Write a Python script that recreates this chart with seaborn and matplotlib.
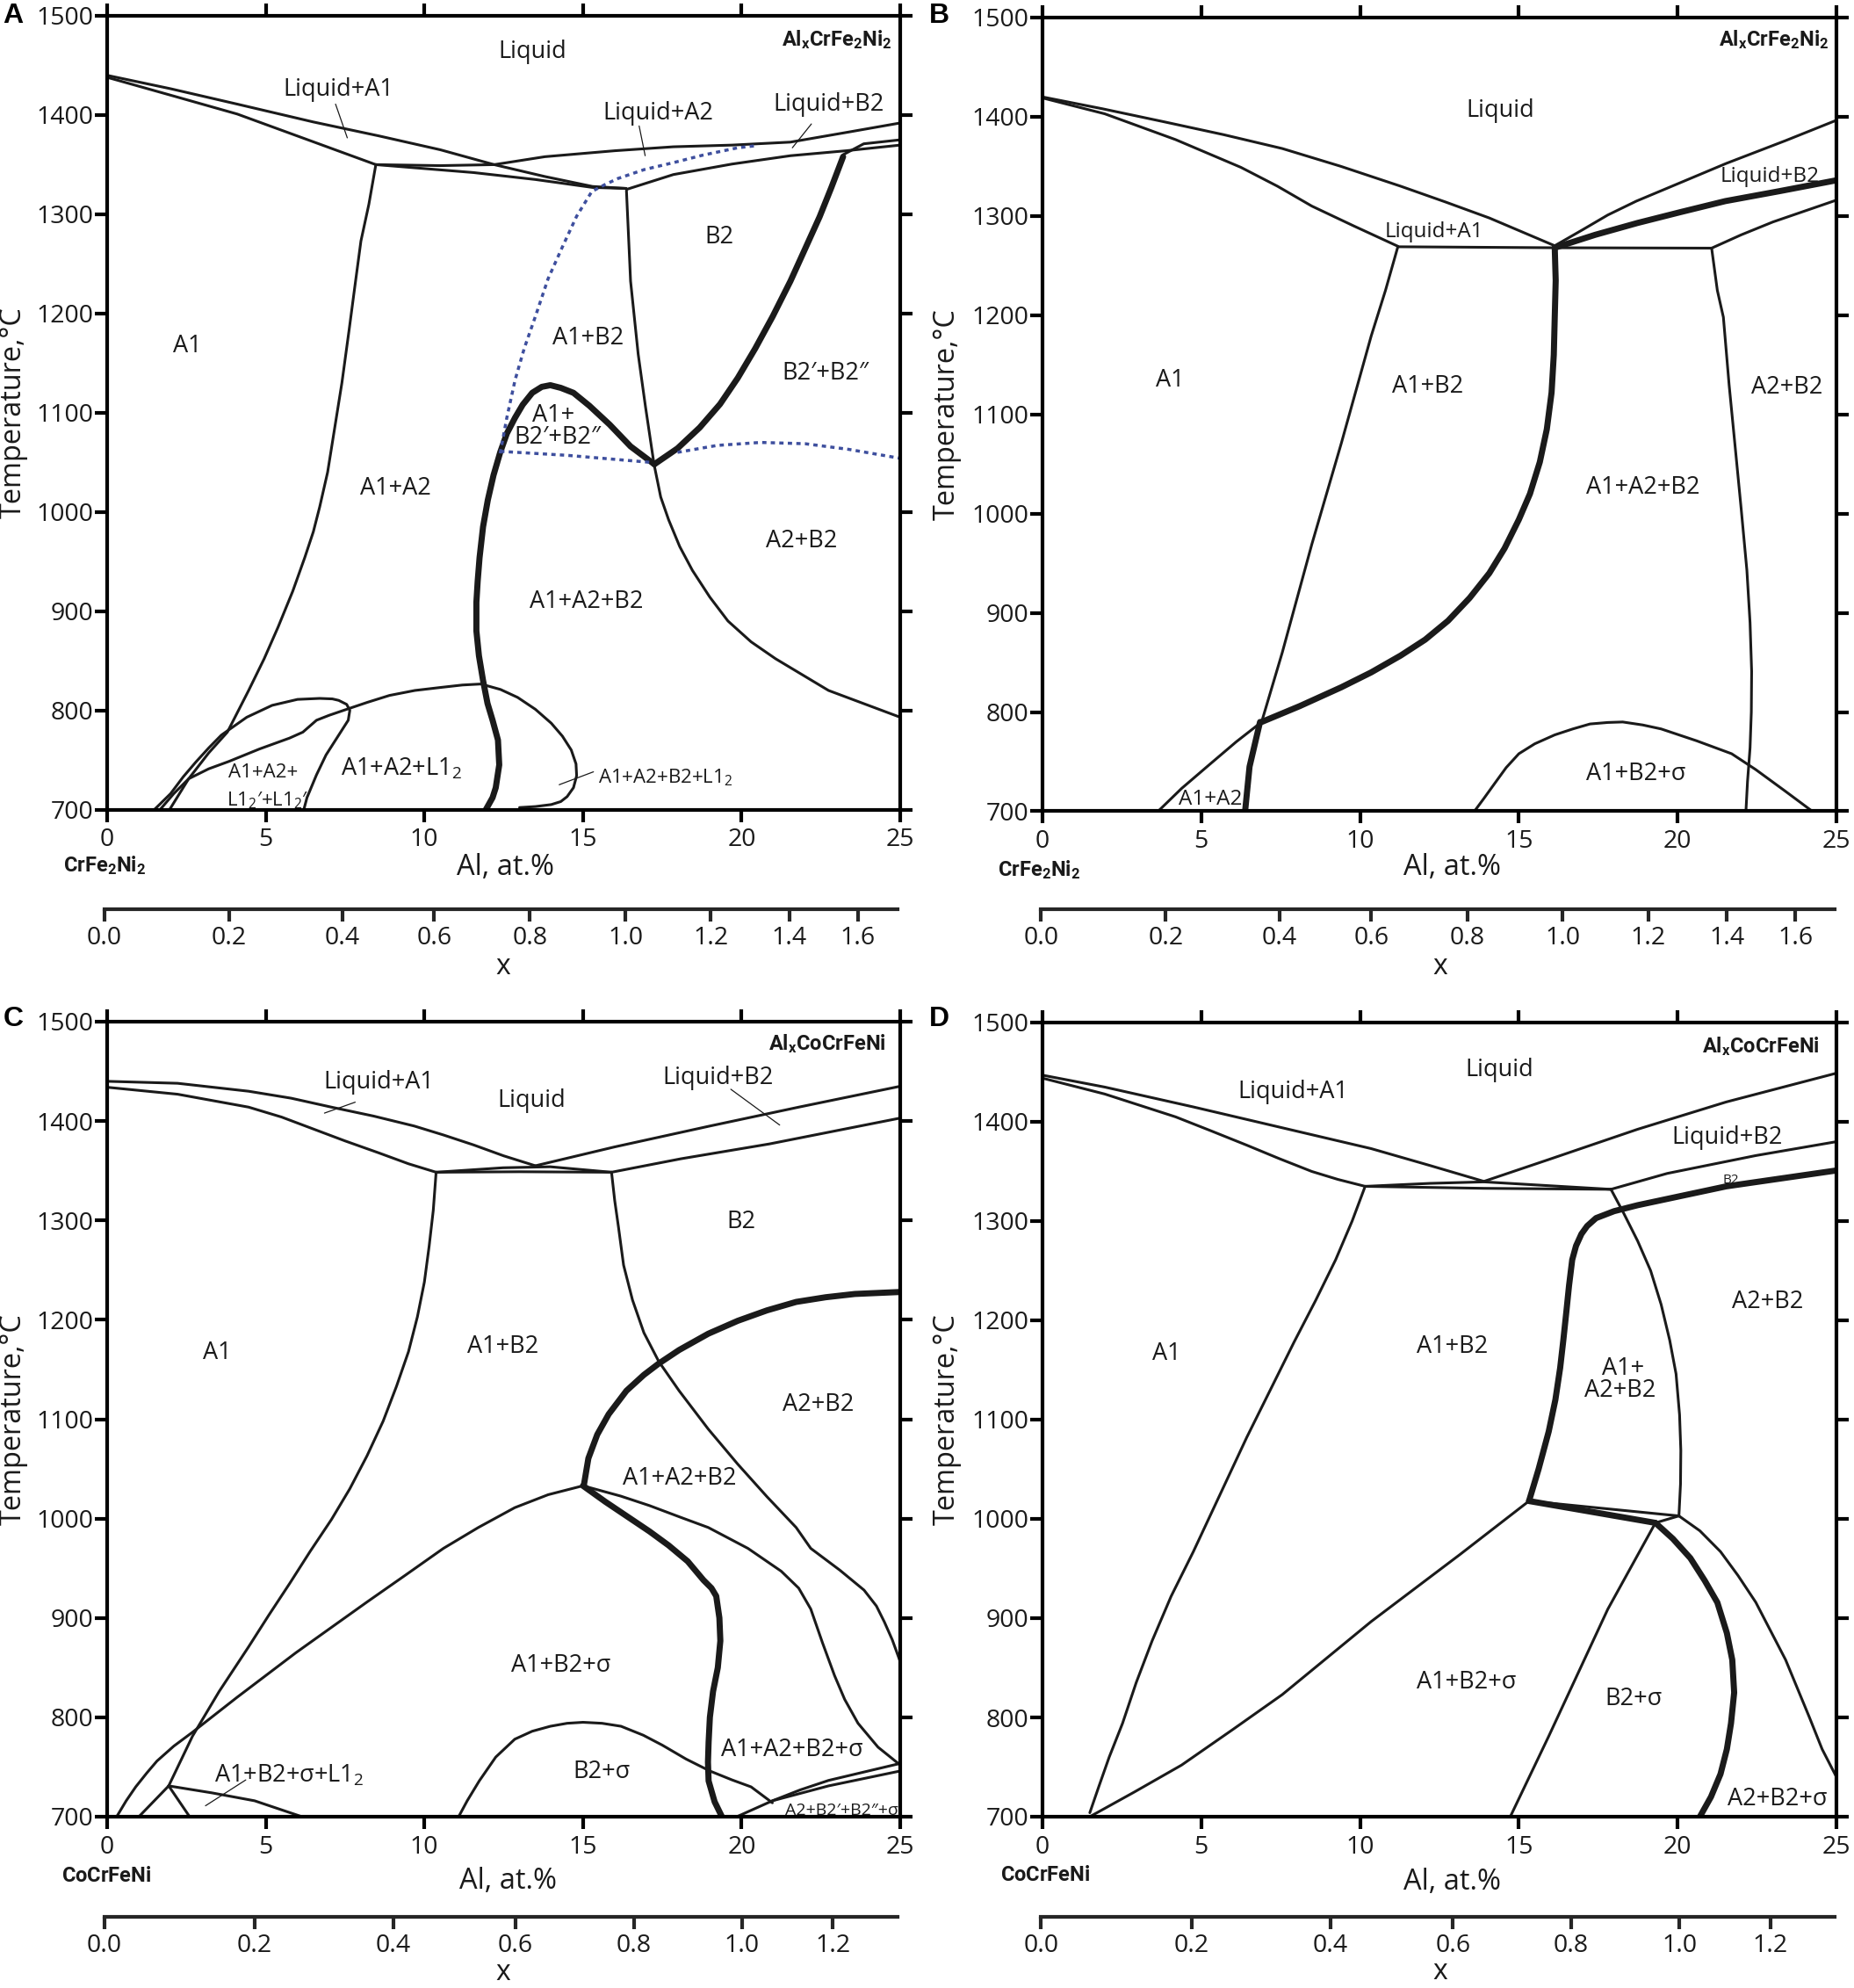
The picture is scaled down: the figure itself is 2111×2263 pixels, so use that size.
import matplotlib
matplotlib.use("Agg")
import matplotlib.pyplot as plt
import seaborn as sns
import pandas as pd

sns.set_theme(style="ticks")
FONT = "Open Sans"
BOLD = "Roboto"
plt.rcParams["font.family"] = [FONT, "DejaVu Sans"]
plt.rcParams["mathtext.fontset"] = "custom"
plt.rcParams["mathtext.rm"] = FONT
plt.rcParams["mathtext.bf"] = BOLD + ":bold"
plt.rcParams["mathtext.it"] = FONT + ":italic"
plt.rcParams["mathtext.default"] = "rm"

# ---------- Panel A ----------
a_liq_up = [(0,1440),(2,1426.5),(4.1,1411),(6.5,1393),(8.56,1379),(10.5,1365),(12.2,1350),(13.8,1338),(15.3,1328),(16.36,1326)]
a_liq_lo = [(0,1438),(2,1420),(4.1,1401),(6.5,1373),(8.47,1350)]
a_tie_up = [(8.47,1350),(10.5,1349),(12.2,1350),(13.8,1358),(16,1364),(17.85,1368),(19.7,1369.7),(21.54,1372.7),(23.4,1383),(25,1392)]
a_tie_lo = [(8.47,1350),(11.55,1342),(13.5,1335),(15.3,1327),(16.36,1326)]
a_b2_lo = [(16.37,1325),(17.85,1340),(19.7,1350.6),(21.54,1359),(23.3,1364),(25,1369.7)]
a_b2_up = [(23.2,1360),(23.85,1371),(25,1375)]
a_a1 = [(8.47,1350),(8.25,1310),(8,1273),(7.82,1230),(7.63,1184),(7.4,1130),(7.16,1082),(6.95,1040),(6.7,1005),(6.5,980),(6.23,954),(5.85,920),(5.39,884),(4.95,852),(4.46,820),(3.79,778),(3.2,757),(2.57,731),(1.97,700)]
a_lobe = [(1.49,700),(2.0,716),(2.4,733),(2.8,748),(3.2,762),(3.6,775),(4.4,793),(5.2,805),(6.0,811),(6.7,812),(7.1,811.5),(7.3,810),(7.55,806),(7.65,800),(7.6,790),(7.4,780),(7.2,770),(6.9,755),(6.6,735),(6.3,712),(6.2,700)]
a_low = [(1.67,700),(2.1,716),(2.57,731),(3.2,741),(3.84,748.5),(4.8,761),(5.75,772),(6.17,778),(6.6,790),(7.0,795),(7.55,801),(8.2,808),(8.9,815),(9.7,820),(10.5,823),(11.2,825.5),(11.78,826.5),(12.4,821),(12.94,813),(13.5,801),(14,787),(14.35,774),(14.63,760),(14.78,746),(14.8,734),(14.7,722),(14.5,713),(14.3,708),(14,705),(13.5,703),(13,702)]
a_thin_r = [(16.37,1324),(16.5,1232.6),(16.74,1159),(16.97,1106),(17.24,1048),(17.45,1015),(17.7,992),(18.05,965),(18.45,941),(19,914),(19.57,890),(20.3,869),(21.07,852),(22.74,820),(25,793)]
a_thick_l = [(11.94,700),(12.15,712),(12.25,722),(12.36,745),(12.32,770),(12.15,790),(11.99,807),(11.85,830),(11.72,855),(11.64,880),(11.64,909),(11.68,930),(11.74,954),(11.85,985),(12.0,1012),(12.18,1037),(12.39,1060),(12.6,1079),(12.86,1095),(13.1,1108),(13.4,1120),(13.7,1126),(13.97,1127.7),(14.3,1125),(14.7,1120),(15.2,1107),(15.84,1088),(16.5,1066),(17.25,1048)]
a_thick_r = [(17.25,1048),(17.98,1064),(18.68,1085),(19.32,1108.6),(19.88,1135),(20.43,1164.7),(20.98,1197),(21.54,1232.6),(22.0,1265),(22.46,1297.5),(22.83,1327),(23.2,1358)]
a_dot_1 = [(12.39,1059),(12.6,1095),(12.86,1133),(13.15,1165),(13.5,1197),(13.9,1235),(14.35,1267),(14.8,1298),(15.28,1323),(15.7,1330),(16.1,1336),(16.93,1345),(17.85,1352),(18.77,1359.5),(19.88,1367),(20.43,1369)]
a_dot_2 = [(12.39,1061),(14.5,1057),(17.1,1050)]
a_dot_3 = [(17.98,1060),(19.23,1067),(20.6,1070),(22,1068.7),(23.38,1063),(25,1054)]
A_THIN = [a_liq_up,a_liq_lo,a_tie_up,a_tie_lo,a_b2_lo,a_b2_up,a_a1,a_lobe,a_low,a_thin_r]
A_THICK = [a_thick_l,a_thick_r]
A_DOT = [a_dot_1,a_dot_2,a_dot_3]
A_LEAD = [[(7.2,1411),(7.57,1377)],[(16.77,1389),(16.96,1359)],[(22.2,1391),(21.6,1367)],[(15.33,738),(14.25,725)]]
A_LABELS = [("Liquid",13.4,1466),("Liquid+A1",7.3,1428),("Liquid+A2",17.37,1404),("Liquid+B2",22.74,1413),("B2",19.3,1280),("A1",2.52,1170),("A1+B2",15.17,1178),("B2\u2032+B2\u2033",22.65,1142),("A1+",14.07,1100),("B2\u2032+B2\u2033",14.2,1078),("A1+A2",9.1,1026),("A2+B2",21.88,973),("A1+A2+B2",15.1,912),("A1+A2+L1$_2$",9.27,744)]
A_SMALL = [("A1+A2+",4.93,740),("L1$_2$\u2032+L1$_2$\u2033",5.1,712),("A1+A2+B2+L1$_2$",17.6,735)]

# ---------- Panel B ----------
b_liq_up = [(0,1420),(1.9,1408),(3.82,1395),(5.7,1382),(7.55,1368),(9.4,1350),(11.28,1330),(12.7,1314),(14.07,1298),(15.1,1284),(16.13,1270)]
b_liq_lo = [(0,1419),(1.96,1403),(4.19,1377),(6.25,1349),(7.4,1330),(8.48,1310),(9.8,1290),(11.19,1269.5)]
b_tie = [(11.19,1269),(16.1,1268),(21.07,1267.6)]
b_r_up = [(16.13,1270),(17,1286),(17.8,1301),(18.7,1315),(19.67,1328),(21.53,1353),(23.4,1376),(25,1396.5)]
b_r_lo = [(21.07,1267.6),(22,1281),(23,1294),(25,1316)]
b_a1 = [(11.19,1269),(10.8,1225),(10.35,1179),(9.41,1071),(8.48,969),(7.55,860),(6.9,790)]
b_a1a2 = [(6.9,790),(6.1,770),(5.31,748.5),(4.38,723),(3.64,700)]
b_right = [(21.07,1267.6),(21.25,1225),(21.44,1198),(21.62,1130),(21.8,1071),(22.0,1005),(22.18,943),(22.28,890),(22.33,841),(22.32,800),(22.28,764),(22.2,730),(22.15,700)]
b_dome = [(13.6,700),(13.9,713),(14.26,729),(14.6,744),(15,758),(15.5,768),(16.13,777),(16.7,783),(17.24,788),(17.8,789.5),(18.27,790),(18.9,787),(19.48,783),(20.6,771),(21.7,758),(22.46,742),(23.4,720),(24.24,700)]
b_thick_1 = [(16.13,1268),(17.4,1281),(18.74,1293),(20.1,1304),(21.5,1315),(23.2,1325),(25,1336)]
b_thick_2 = [(6.85,790),(6.52,745),(6.38,700)]
b_thick_3 = [(16.13,1268),(16.16,1235),(16.13,1198),(16.1,1160),(16.03,1122),(15.88,1085),(15.66,1052),(15.35,1020),(15,994),(14.55,965),(14.07,940),(13.45,915),(12.77,892),(12.05,873),(11.28,857),(10.35,840),(9.41,825),(8.1,806),(6.9,790)]
B_THIN = [b_liq_up,b_liq_lo,b_tie,b_r_up,b_r_lo,b_a1,b_a1a2,b_right,b_dome]
B_THICK = [b_thick_1,b_thick_2,b_thick_3]
B_DOT = []
B_LEAD = []
B_LABELS = [("Liquid",14.41,1409),("A1",4.03,1137),("A1+B2",12.12,1131),("A2+B2",23.43,1130),("A1+A2+B2",18.9,1029),("A1+B2+\u03c3",18.68,740)]
B_SMALL = [("Liquid+A1",12.34,1287),("Liquid+B2",22.9,1342),("A1+A2",5.28,715)]

# ---------- Panel C ----------
c_liq_up = [(0,1440),(2.22,1438),(4.46,1430),(5.8,1423),(7.07,1414),(8.4,1405),(9.68,1395),(10.6,1386),(11.55,1376),(12.5,1365),(13.5,1355)]
c_liq_lo = [(0,1434),(2.22,1427),(4.46,1414),(5.5,1404),(6.5,1392),(7.5,1380),(8.56,1368),(9.5,1357),(10.37,1348.5)]
c_tie_up = [(10.37,1348.5),(12.48,1353),(13.97,1354),(15.9,1348.5)]
c_tie_lo = [(10.37,1348.5),(13,1349),(15.9,1348.5)]
c_r_up = [(13.5,1355),(16,1374),(19,1395),(21.8,1414),(25,1435)]
c_r_lo = [(15.9,1348.5),(18.08,1362),(20.88,1377),(25,1403)]
c_a1 = [(10.37,1348.5),(10.28,1310),(10.15,1274),(10.0,1238),(9.78,1203),(9.5,1168),(9.12,1133),(8.7,1098),(8.19,1063),(7.65,1030),(7.07,999),(6.4,967),(5.76,935),(5.1,903),(4.46,871),(3.53,826),(2.69,781),(1.94,731)]
c_s1 = [(1.94,731),(1.0,700)]
c_s2 = [(1.94,731),(2.6,700)]
c_s3 = [(1.94,731),(3.3,724),(4.65,716),(6.14,700)]
c_dome = [(0.3,700),(0.6,716),(0.9,730),(1.25,744),(1.57,756),(2.1,771),(2.69,785),(4.09,820),(5.95,865),(8.19,916),(9.4,943),(10.6,970),(11.7,991),(12.85,1011),(13.9,1024),(15,1033)]
c_right = [(15.9,1348.5),(16.0,1320),(16.12,1293),(16.28,1255),(16.56,1220),(16.92,1187),(17.39,1158),(18.03,1128.6),(18.95,1090),(19.88,1054.7),(20.8,1022),(21.72,991),(22.18,970),(23.1,948),(23.86,928),(24.25,912),(24.5,896),(24.75,878),(25,856)]
c_a2 = [(15,1033),(16.19,1022.6),(17.1,1013),(18.1,1001),(18.95,991),(20.2,970),(21.25,947),(21.8,930),(22.18,909),(22.55,875),(22.93,842),(23.25,818),(23.67,794),(24.3,770),(25,752)]
c_sig = [(11.08,700),(11.35,716),(11.73,736),(12.25,760),(12.85,778),(13.4,786),(13.97,791),(14.5,794),(15,795),(15.6,794),(16.2,791),(16.9,782),(17.5,772),(18.25,758),(19,746),(19.7,737),(20.3,730),(20.97,714)]
c_lr_1 = [(19.85,700),(20.97,716),(21.85,727),(22.74,736.5),(25,753.6)]
c_lr_2 = [(20.97,716),(22.74,731),(25,746)]
c_thick_1 = [(15.03,1034),(15.17,1060.6),(15.45,1084.5),(15.81,1105),(16.37,1128.6),(16.92,1144.6),(17.39,1156),(18.03,1169.6),(18.95,1186),(19.88,1199),(20.8,1209.5),(21.72,1218),(22.65,1222.7),(23.57,1226),(25,1228)]
c_thick_2 = [(15,1033),(15.7,1017),(16.4,1002),(17.1,987),(17.7,973),(18.3,957),(18.8,938),(19.05,930),(19.2,922),(19.3,900),(19.33,877),(19.25,850),(19.1,826),(19.0,800),(18.96,775),(18.94,755),(18.96,736),(19.15,715),(19.38,700)]
C_THIN = [c_liq_up,c_liq_lo,c_tie_up,c_tie_lo,c_r_up,c_r_lo,c_a1,c_s1,c_s2,c_s3,c_dome,c_right,c_a2,c_sig,c_lr_1,c_lr_2]
C_THICK = [c_thick_1,c_thick_2]
C_DOT = []
C_LEAD = [[(7.82,1419),(6.85,1408)],[(19.66,1432),(21.2,1396)],[(4.37,737),(3.1,711)]]
C_LABELS = [("Liquid+A1",8.56,1442),("Liquid",13.38,1423),("Liquid+B2",19.25,1446),("B2",20,1301),("A1",3.47,1169),("A1+B2",12.48,1176),("A2+B2",22.43,1117),("A1+A2+B2",18.04,1043),("A1+B2+\u03c3",14.3,855),("B2+\u03c3",15.6,748),("A1+A2+B2+\u03c3",21.6,770),("A1+B2+\u03c3+L1$_2$",5.73,744)]
C_SMALL = []
C_TINY = [("A2+B2\u2032+B2\u2033+\u03c3",23.17,709)]

# ---------- Panel D ----------
d_liq_up = [(0,1447),(1.96,1435),(4.75,1415),(7.55,1394),(10.35,1373),(12.2,1356),(13.9,1340)]
d_liq_lo = [(0,1444),(1.96,1428),(4.19,1405),(5.3,1391),(6.43,1376.5),(7.45,1363),(8.48,1350),(9.3,1342),(10.16,1335)]
d_tie_up = [(10.16,1335),(12.2,1338),(13.9,1339.5),(17.9,1332)]
d_tie_lo = [(10.16,1335),(13.9,1333),(17.9,1332)]
d_r_up = [(13.9,1340),(15.94,1362),(18.74,1392.5),(21.53,1420),(25,1449)]
d_r_lo = [(17.9,1332),(19.67,1348),(22.46,1366),(25,1380)]
d_mid = [(17.9,1332),(18.3,1308),(18.74,1280),(19.15,1250),(19.48,1216),(19.75,1180),(19.95,1146),(20.06,1105),(20.1,1069),(20.09,1035),(20.04,1003)]
d_tie_2 = [(15.32,1018),(20.04,1003)]
d_tie_3 = [(19.3,996),(20.04,1003)]
d_right = [(20.04,1003),(20.7,988),(21.35,967),(21.9,943),(22.46,916),(23.4,858),(24.15,800),(24.55,768),(25,740)]
d_a1 = [(10.16,1335),(9.75,1300),(9.23,1261),(8.6,1220),(7.92,1178),(6.43,1082),(4.75,967),(4.05,922),(3.45,877),(2.95,835),(2.52,794),(2.1,760),(1.77,730),(1.49,704)]
d_dome = [(15.32,1018),(13.14,964),(10.35,896.6),(7.55,823),(6,788),(4.38,752),(2.9,725),(1.49,700)]
d_b2s = [(19.3,996),(17.8,909),(15.94,781),(14.73,700)]
d_thick_1 = [(25,1351),(21.53,1335),(18.74,1316),(18,1310),(17.43,1303),(17.15,1295),(16.97,1287),(16.8,1275),(16.68,1261),(16.58,1235),(16.5,1210),(16.4,1180),(16.3,1152),(16.15,1120),(15.94,1088),(15.62,1050),(15.32,1018)]
d_thick_2 = [(15.32,1018),(19.3,996)]
d_thick_3 = [(19.3,996),(19.85,980),(20.4,960.5),(20.85,938),(21.25,915.8),(21.55,885),(21.72,858),(21.78,825),(21.68,794),(21.55,768),(21.35,743),(21.05,720),(20.7,700)]
D_THIN = [d_liq_up,d_liq_lo,d_tie_up,d_tie_lo,d_r_up,d_r_lo,d_mid,d_tie_2,d_tie_3,d_right,d_a1,d_dome,d_b2s]
D_THICK = [d_thick_1,d_thick_2,d_thick_3]
D_DOT = []
D_LEAD = []
D_LABELS = [("Liquid",14.4,1455),("Liquid+A1",7.9,1433),("Liquid+B2",21.57,1387),("A2+B2",22.84,1221),("A1",3.9,1169),("A1+B2",12.9,1176),("A1+",18.29,1154),("A2+B2",18.2,1132),("A1+B2+\u03c3",13.35,838),("B2+\u03c3",18.62,821),("A2+B2+\u03c3",23.15,720)]
D_SMALL = []
D_TINY = [("B2",21.68,1344)]

# ---------- Axes ticks ----------
at_ticks = [0, 5, 10, 15, 20, 25]
temp_ticks = [700, 800, 900, 1000, 1100, 1200, 1300, 1400, 1500]
x_labels_ab = ["0.0","0.2","0.4","0.6","0.8","1.0","1.2","1.4","1.6"]
x_pos_ab = [0, 3.93, 7.51, 10.4, 13.42, 16.43, 19.12, 21.6, 23.76]
x_labels_cd = ["0.0","0.2","0.4","0.6","0.8","1.0","1.2"]
x_pos_cd = [0, 4.75, 9.11, 12.97, 16.7, 20.1, 22.97]

W, H = 2111, 2263
DPI = 100
INK = "#1a1a1a"
BLUE = "#3e4f9e"
TEXT_DROP = 2.7
fig = plt.figure(figsize=(W/DPI, H/DPI), dpi=DPI, facecolor="white")

def add_px_axes(l, t, r, b):
    return fig.add_axes([l/W, 1-b/H, (r-l)/W, (b-t)/H])

def draw(ax, pts, color, lw, **kw):
    df = pd.DataFrame(pts, columns=["al", "T"])
    sns.lineplot(data=df, x="al", y="T", sort=False, estimator=None, errorbar=None,
                 color=color, linewidth=lw, ax=ax, legend=False,
                 **kw)

def panel(box, letter, letter_xy, thin, thick, dot, lead, labels, small, small_size, tiny, tiny_size,
          title, title_xy, base, base_xy, al_xy, ylab_x, xt_pos, xt_labels, sec_y, sec_dx, x_xy):
    l, t, r, b = box
    ax = add_px_axes(l, t, r, b)
    for c in thin:
        draw(ax, c, INK, 2.2, solid_joinstyle="round", solid_capstyle="round")
    for c in thick:
        draw(ax, c, INK, 5, solid_joinstyle="round", solid_capstyle="round")
    for c in dot:
        draw(ax, c, BLUE, 2.5, linestyle=(0, (1.4, 1.4)))
    for c in lead:
        draw(ax, c, INK, 0.9)
    ax.set_xlim(0, 25)
    ax.set_ylim(700, 1500)
    ax.set_xticks(at_ticks)
    ax.set_yticks(temp_ticks)
    ax.tick_params(axis="both", which="both", direction="out", length=10, width=3,
                   labelsize=20.5, color="black", labelcolor=INK, top=True, right=True)
    ax.tick_params(axis="x", pad=5)
    ax.tick_params(axis="y", pad=1.5)
    ax.set_xlabel("")
    ax.set_ylabel("Temperature,\u00b0C", fontsize=23.4, color=INK)
    ax.yaxis.set_label_coords(ylab_x, 0.5)
    for s in ax.spines.values():
        s.set_linewidth(3)
        s.set_color("black")
        s.set_visible(True)
    for txt, x, y in labels:
        ax.text(x, y - TEXT_DROP, txt, ha="center", va="center", fontsize=19.5, color=INK)
    for txt, x, y in small:
        ax.text(x, y - TEXT_DROP, txt, ha="center", va="center", fontsize=small_size, color=INK)
    for txt, x, y in tiny:
        ax.text(x, y - TEXT_DROP, txt, ha="center", va="center", fontsize=tiny_size, color=INK)
    ax.text(title_xy[0], title_xy[1], title, ha="right", va="center", fontsize=17, color=INK)
    ax.text(base_xy[0], base_xy[1], base, ha="center", va="center", fontsize=17, color=INK)
    ax.text(al_xy[0], al_xy[1] - TEXT_DROP, "Al, at.%", ha="center", va="center", fontsize=23.5, color=INK)
    ax.text(x_xy[0], x_xy[1], "x", ha="center", va="baseline", fontsize=23, color=INK)
    sec = add_px_axes(l+sec_dx, sec_y-2, r+sec_dx, sec_y+2)
    sec.patch.set_alpha(0)
    sec.set_xlim(0, 25)
    sec.set_yticks([])
    sec.set_xticks(xt_pos)
    sec.set_xticklabels(xt_labels)
    sec.tick_params(axis="x", direction="out", length=10, width=3, labelsize=20.5,
                    labelcolor=INK, pad=4)
    for k, s in sec.spines.items():
        s.set_visible(k == "bottom")
    sec.spines["bottom"].set_linewidth(3)
    fig.text(letter_xy[0]/W, 1-letter_xy[1]/H, letter, ha="center", va="center",
             fontsize=23, fontweight="bold", family="Liberation Sans", color="black")

panel((122,18,1025,921.5), "A", (15,18), A_THIN, A_THICK, A_DOT, A_LEAD, A_LABELS, A_SMALL, 16, [], 10,
      r"$\mathbf{Al_xCrFe_2Ni_2}$", (24.75,1476), r"$\mathbf{CrFe_2Ni_2}$", (-0.07,644), (12.56,644),
      -0.0997, x_pos_ab, x_labels_ab, 1033, -3.4, (12.47,534))
panel((1187,20,2091,923.5), "B", (1069,18), B_THIN, B_THICK, B_DOT, B_LEAD, B_LABELS, B_SMALL, 17.5, [], 10,
      r"$\mathbf{Al_xCrFe_2Ni_2}$", (24.76,1478), r"$\mathbf{CrFe_2Ni_2}$", (-0.1,641), (12.9,646),
      -0.1018, x_pos_ab, x_labels_ab, 1033, -1.7, (12.53,536))
panel((122,1163,1025,2068), "C", (15,1160), C_THIN, C_THICK, C_DOT, C_LEAD, C_LABELS, C_SMALL, 10, C_TINY, 14,
      r"$\mathbf{Al_xCoCrFeNi}$", (24.55,1478), r"$\mathbf{CoCrFeNi}$", (-0.02,640), (12.63,638),
      -0.0997, x_pos_cd, x_labels_cd, 2180, -3.4, (12.47,536))
panel((1187,1164,2091,2068), "D", (1069,1160), D_THIN, D_THICK, D_DOT, D_LEAD, D_LABELS, D_SMALL, 10, D_TINY, 11,
      r"$\mathbf{Al_xCoCrFeNi}$", (24.46,1476), r"$\mathbf{CoCrFeNi}$", (0.1,641), (12.9,637),
      -0.1018, x_pos_cd, x_labels_cd, 2180, -1.7, (12.53,536))

fig.savefig("out.png", dpi=DPI, facecolor="white")
